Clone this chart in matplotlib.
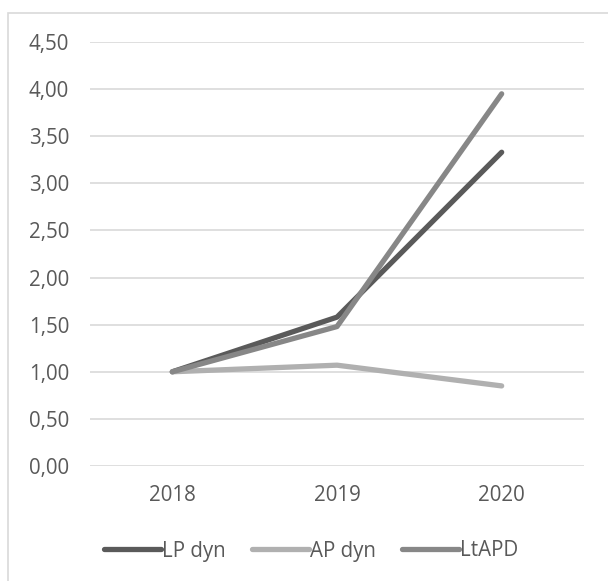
import matplotlib
matplotlib.use("Agg")
import matplotlib.pyplot as plt
from matplotlib.patches import Rectangle

years = ["2018", "2019", "2020"]
lp_dyn = [1.00, 1.58, 3.33]
ap_dyn = [1.00, 1.07, 0.85]
ltapd = [1.00, 1.48, 3.95]
y_ticks = [0.0, 0.5, 1.0, 1.5, 2.0, 2.5, 3.0, 3.5, 4.0, 4.5]

plt.rcParams['font.family'] = ['Open Sans', 'DejaVu Sans']
text_color = "#595959"
grid_color = "#d9d9d9"

fig = plt.figure(figsize=(6.08, 5.81), dpi=100)
fig.patches.append(Rectangle((8 / 608, -0.1), 1.2, 1 - 13 / 581 + 0.1,
                             transform=fig.transFigure, fill=False,
                             edgecolor=grid_color, linewidth=1.2))

ax = fig.add_axes([90 / 608, 1 - 466 / 581, (584 - 90) / 608, (466 - 42) / 581])
x = list(range(len(years)))
series = [("LP dyn", lp_dyn, "#5a5a5a"),
          ("AP dyn", ap_dyn, "#b0b0b0"),
          ("LtAPD", ltapd, "#878787")]
for name, vals, col in series:
    ax.plot(x, vals, color=col, linewidth=3.8, solid_capstyle="round",
            solid_joinstyle="round", label=name)

ax.set_xlim(-0.5, 2.5)
ax.set_ylim(0, 4.5)
ax.set_yticks(y_ticks)
ax.set_yticklabels([f"{v:.2f}".replace(".", ",") for v in y_ticks])
ax.set_xticks(x)
ax.set_xticklabels(years)
ax.yaxis.grid(True, color=grid_color, linewidth=1.2)
ax.set_axisbelow(True)
for s in ax.spines.values():
    s.set_visible(False)
ax.tick_params(length=0, labelsize=14.8, colors=text_color)
ax.tick_params(axis="x", pad=14)
ax.tick_params(axis="y", pad=15)

leg = fig.legend(loc="center", bbox_to_anchor=(0.512, 1 - 551 / 581), ncol=3,
                 frameon=False, fontsize=14.8, handlelength=2.75,
                 handletextpad=0.05, columnspacing=1.3)
for t in leg.get_texts():
    t.set_color(text_color)

fig.savefig("out.png", dpi=100)
